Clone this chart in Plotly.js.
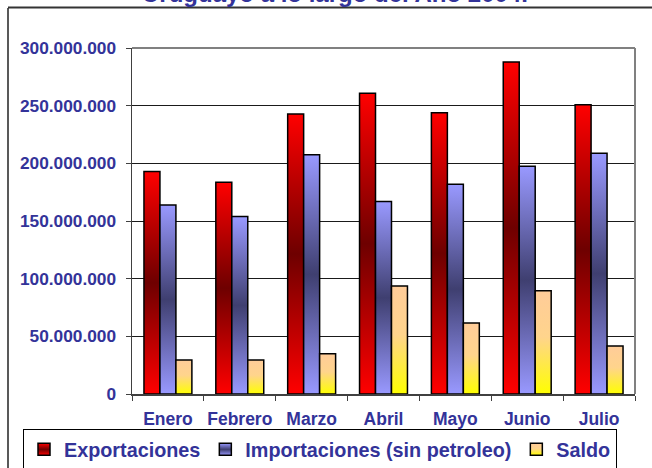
<!DOCTYPE html>
<html>
<head>
<meta charset="utf-8">
<script src="https://cdn.plot.ly/plotly-3.0.1.min.js"></script>
<style>html,body{margin:0;padding:0;background:#fff;}#chart{width:652px;height:468px;}</style>
</head>
<body>
<div id="chart"></div>
<script>
// Data
const months = ['Enero', 'Febrero', 'Marzo', 'Abril', 'Mayo', 'Junio', 'Julio'];
const exportaciones = [193.0e6, 183.5e6, 242.8e6, 260.7e6, 243.9e6, 287.9e6, 250.9e6];
const importaciones = [163.9e6, 153.8e6, 207.5e6, 166.8e6, 181.8e6, 197.4e6, 208.7e6];
const saldo = [29.5e6, 29.5e6, 35.0e6, 93.6e6, 61.6e6, 89.6e6, 41.6e6];
const seriesNames = ['Exportaciones', 'Importaciones (sin petroleo)', 'Saldo'];
const yTickVals = [0, 50e6, 100e6, 150e6, 200e6, 250e6, 300e6];
const titleText = 'Uruguayo a lo largo del Año 2004.';

const FONT = 'Liberation Sans, Arial, sans-serif';
const BLUE = '#333399';

// plot area in pixels
const L = 132, R = 635, T = 48, B = 394, W = 652, H = 468;
const px = x => (x - L) / (R - L);
const py = y => (B - y) / (B - T);

const barLine = {color: '#000', width: 1.5};
const traces = [
  {type: 'bar', name: seriesNames[0], x: months, y: exportaciones, marker: {color: '#c00000', line: barLine}},
  {type: 'bar', name: seriesNames[1], x: months, y: importaciones, marker: {color: '#7070c0', line: barLine}},
  {type: 'bar', name: seriesNames[2], x: months, y: saldo, marker: {color: '#ffe080', line: barLine}}
];

const layout = {
  width: W, height: H,
  margin: {l: L, r: W - R, t: T, b: H - B, pad: 0, autoexpand: false},
  paper_bgcolor: '#fff', plot_bgcolor: '#fff',
  separators: ',.',
  barmode: 'group', bargap: 0.333, bargroupgap: 0,
  showlegend: true,
  font: {family: FONT, color: BLUE},
  xaxis: {
    type: 'category', tickson: 'boundaries', ticks: 'outside', ticklen: 5, tickwidth: 1, tickcolor: '#404040',
    showline: true, linecolor: '#404040', linewidth: 1.5, showgrid: false, tickangle: 0,
    tickfont: {family: FONT, size: 17.5, color: BLUE, weight: 'bold'},
    ticklabelstandoff: 8, fixedrange: true
  },
  yaxis: {
    range: [0, 300e6], tickvals: yTickVals, tickformat: ',d',
    ticks: 'outside', ticklen: 5, tickwidth: 1, tickcolor: '#404040',
    showline: true, linecolor: '#404040', linewidth: 1.5,
    showgrid: true, gridcolor: '#1a1a1a', gridwidth: 1, zeroline: false,
    tickfont: {family: FONT, size: 17.3, color: BLUE, weight: 'bold'},
    ticklabelstandoff: 6, fixedrange: true
  },
  legend: {
    orientation: 'h', x: px(23), y: py(429), xanchor: 'left', yanchor: 'top',
    bgcolor: '#fff', bordercolor: '#000', borderwidth: 1,
    font: {family: FONT, size: 19.8, color: BLUE, weight: 'bold'},
    traceorder: 'normal'
  },
  shapes: [
    // plot area frame (top/right gray)
    {type: 'line', xref: 'paper', yref: 'paper', x0: 0, x1: 1, y0: 1, y1: 1, line: {color: '#808080', width: 2}},
    {type: 'line', xref: 'paper', yref: 'paper', x0: 1, x1: 1, y0: 0, y1: 1, line: {color: '#808080', width: 2}},
    // chart-area border
    {type: 'line', xref: 'paper', yref: 'paper', x0: px(8), x1: px(8), y0: py(8), y1: py(475), line: {color: '#222', width: 1.5}},
    {type: 'line', xref: 'paper', yref: 'paper', x0: px(8), x1: px(660), y0: py(7.5), y1: py(7.5), line: {color: '#333', width: 2}}
  ],
  annotations: [
    {text: titleText, xref: 'paper', yref: 'paper', x: px(335), y: py(9), xanchor: 'center', yanchor: 'bottom',
     showarrow: false, font: {family: FONT, size: 24, color: BLUE, weight: 'bold'}}
  ]
};

function addGradient(defs, id, stops) {
  const ns = 'http://www.w3.org/2000/svg';
  const g = document.createElementNS(ns, 'linearGradient');
  g.setAttribute('id', id);
  g.setAttribute('x1', '0'); g.setAttribute('y1', '0');
  g.setAttribute('x2', '0'); g.setAttribute('y2', '1');
  stops.forEach(s => {
    const st = document.createElementNS(ns, 'stop');
    st.setAttribute('offset', s[0]);
    st.setAttribute('stop-color', s[1]);
    g.appendChild(st);
  });
  defs.appendChild(g);
}

Plotly.newPlot('chart', traces, layout, {staticPlot: true}).then(gd => {
  const svg = gd.querySelector('svg.main-svg');
  let defs = svg.querySelector('defs');
  if (!defs) { defs = document.createElementNS('http://www.w3.org/2000/svg', 'defs'); svg.insertBefore(defs, svg.firstChild); }
  addGradient(defs, 'gradExp', [[0, '#ff0000'], [0.5, '#6e0000'], [1, '#ff0000']]);
  addGradient(defs, 'gradImp', [[0, '#9999ff'], [0.5, '#3f3f70'], [1, '#9999ff']]);
  addGradient(defs, 'gradSal', [[0, '#ffcc99'], [0.45, '#ffd48c'], [1, '#ffff00']]);
  const ids = ['gradExp', 'gradImp', 'gradSal'];
  gd.querySelectorAll('.barlayer .trace').forEach((t, i) => {
    t.querySelectorAll('path').forEach(p => { p.style.fill = 'url(#' + ids[i] + ')'; });
  });
  gd.querySelectorAll('.legend .traces').forEach((t, i) => {
    t.querySelectorAll('.legendpoints path').forEach(p => { p.style.fill = 'url(#' + ids[i] + ')'; });
  });
});
</script>
</body>
</html>
